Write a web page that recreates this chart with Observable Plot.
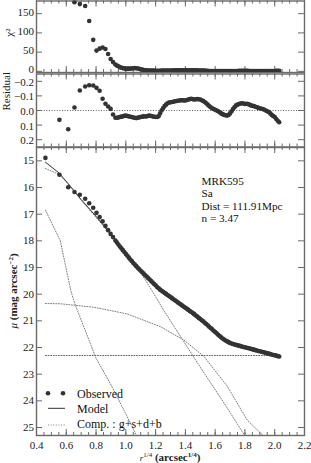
<!DOCTYPE html>
<html><head><meta charset="utf-8">
<script src="https://cdn.jsdelivr.net/npm/d3@7"></script>
<script src="https://cdn.jsdelivr.net/npm/@observablehq/plot@0.6"></script>
<style>
html,body{margin:0;padding:0;background:#fff;}
#chart{position:relative;width:311px;height:463px;overflow:hidden;}
#chart svg{position:absolute;left:0;display:block;overflow:visible;}
</style></head><body><div id="chart"></div>
<script>
// ---- data ----
const radius = [0.46,0.554,0.613,0.655,0.691,0.727,0.754,0.781,0.803,0.824,0.844,0.863,0.881,0.898,0.914,0.93,
 0.94,0.95,0.96,0.97,0.98,0.99,1.00,1.01,1.02,1.03,1.04,1.05,1.06,1.07,1.08,1.09,1.10,1.11,1.12,1.13,1.14,1.15,1.16,1.17,
 1.18,1.19,1.20,1.21,1.22,1.23,1.24,1.25,1.26,1.27,1.28,1.29,1.30,1.31,1.32,1.33,1.34,1.35,1.36,1.37,1.38,1.39,1.40,1.41,
 1.42,1.43,1.44,1.45,1.46,1.47,1.48,1.49,1.50,1.51,1.52,1.53,1.54,1.55,1.56,1.57,1.58,1.59,1.60,1.61,1.62,1.63,1.64,1.65,
 1.66,1.67,1.68,1.69,1.70,1.71,1.72,1.73,1.74,1.75,1.76,1.77,1.78,1.79,1.80,1.81,1.82,1.83,1.84,1.85,1.86,1.87,1.88,1.89,
 1.90,1.91,1.92,1.93,1.94,1.95,1.96,1.97,1.98,1.99,2.00,2.01,2.02,2.03];
const muObs = [14.89,15.52,15.99,16.17,16.27,16.42,16.59,16.76,16.95,17.11,17.27,17.44,17.60,17.74,17.86,17.99,
 18.06,18.14,18.21,18.28,18.35,18.42,18.49,18.56,18.63,18.70,18.76,18.83,18.89,18.95,19.01,19.07,19.12,19.18,19.23,19.29,
 19.34,19.40,19.45,19.51,19.56,19.62,19.67,19.73,19.78,19.83,19.87,19.91,19.95,19.99,20.03,20.07,20.11,20.15,20.19,20.23,
 20.27,20.31,20.35,20.39,20.43,20.47,20.51,20.55,20.59,20.63,20.67,20.71,20.75,20.80,20.84,20.89,20.93,20.98,21.02,21.07,
 21.12,21.17,21.22,21.27,21.32,21.37,21.42,21.47,21.52,21.57,21.62,21.66,21.70,21.74,21.77,21.80,21.83,21.85,21.87,21.89,
 21.90,21.92,21.93,21.95,21.96,21.98,21.99,22.01,22.02,22.04,22.05,22.07,22.08,22.10,22.11,22.13,22.14,22.16,22.17,22.19,
 22.20,22.22,22.23,22.25,22.26,22.28,22.29,22.31,22.33,22.34];
const residual = [null,0.064,0.128,-0.021,-0.137,-0.164,-0.173,-0.171,-0.155,-0.135,-0.08,-0.046,-0.027,-0.011,0.027,0.05,
 0.05,0.048,0.045,0.042,0.04,0.036,0.035,0.038,0.04,0.043,0.045,0.048,0.05,0.052,0.05,0.047,0.045,0.042,0.04,0.041,
 0.04,0.037,0.035,0.038,0.04,0.043,0.045,0.044,0.04,0.02,0.0,-0.015,-0.03,-0.04,-0.05,-0.054,-0.057,-0.058,-0.06,-0.063,
 -0.065,-0.067,-0.068,-0.07,-0.07,-0.069,-0.068,-0.072,-0.075,-0.078,-0.08,-0.077,-0.075,-0.077,-0.078,-0.077,-0.075,-0.07,
 -0.065,-0.058,-0.05,-0.04,-0.03,-0.022,-0.015,-0.01,-0.005,0.0,0.005,0.012,0.02,0.025,0.03,0.033,0.035,0.03,0.02,0.005,
 -0.01,-0.023,-0.035,-0.04,-0.045,-0.048,-0.05,-0.048,-0.045,-0.046,-0.045,-0.04,-0.035,-0.032,-0.03,-0.026,-0.022,-0.018,
 -0.015,-0.012,-0.01,-0.005,0.0,0.005,0.01,0.02,0.03,0.038,0.045,0.058,0.07,0.08];
const chi2 = [null,null,null,180,175,170,131,82,54,59,62,58,45,32,24,18,
 15,13,11,9.5,8.5,7.5,7,7,7,7.2,7.5,8,8.5,8,7.5,6.5,5.5,4.5,3.5,3,2.5,2.2,2,2,2,1.8,1.5,1.5,1.5,1.6,1.8,1.9,2,2.1,2.2,
 2.2,2.3,2.3,2.4,2.4,2.5,2.5,2.5,2.6,2.6,2.5,2.5,2.5,2.6,2.6,2.7,2.6,2.5,2.5,2.4,2.3,2.2,2.1,2,1.8,1.5,1.2,1,0.9,0.8,
 0.6,0.5,0.5,0.5,0.6,0.7,0.8,0.9,1,1,0.9,0.8,0.7,0.6,0.7,0.9,1,1.1,1.2,1.2,1.2,1.1,1.1,1.1,1,1,0.9,0.9,0.8,0.8,0.7,
 0.7,0.6,0.6,0.5,0.5,0.5,0.6,0.7,0.8,0.9,1,1.2,1.4,1.6];

const modelR  = [0.46,0.554,0.613,0.7,0.8,0.9,1.0,1.1,1.2,1.3,1.4,1.5,1.6,1.7,1.8,1.9,2.03];
const modelMu = [15.05,15.47,15.86,16.45,17.08,17.75,18.45,19.07,19.63,20.17,20.58,21.0,21.42,21.81,22.04,22.16,22.26];

const compG_r  = [0.46,0.56,0.63,0.66,0.8,0.91,1.01,1.08];
const compG_mu = [16.85,18.0,19.86,20.4,22.4,23.5,24.6,25.4];
const compS_r  = [0.46,0.55,0.62,0.7,0.8,0.9,0.986,1.076,1.166,1.255,1.334,1.5,1.65,1.81];
const compS_mu = [15.29,15.5,15.9,16.48,17.12,17.78,18.36,18.99,19.78,20.61,21.3,22.74,24.0,25.4];
const compD_r  = [0.46,0.56,0.785,1.009,1.233,1.389,1.524,1.681,1.815,1.94];
const compD_mu = [20.35,20.36,20.49,20.74,21.22,21.72,22.33,23.45,24.72,25.4];
const compB_r  = [0.46,2.04];
const compB_mu = [22.3,22.3];

const xMajor = [0.4,0.6,0.8,1.0,1.2,1.4,1.6,1.8,2.0,2.2];
const xMinor = [0.4,0.45,0.5,0.55,0.6,0.65,0.7,0.75,0.8,0.85,0.9,0.95,1.0,1.05,1.1,1.15,1.2,1.25,1.3,1.35,1.4,1.45,1.5,
 1.55,1.6,1.65,1.7,1.75,1.8,1.85,1.9,1.95,2.0,2.05,2.1,2.15,2.2];
const chiTicks = [0,50,100,150];
const resTicks = [-0.2,-0.1,0.0,0.1,0.2];
const muTicks = [15,16,17,18,19,20,21,22,23,24,25];
const infoLines = ["MRK595","Sa","Dist = 111.91Mpc","n = 3.47"];
const legendLabels = ["Observed","Model","Comp. : g+s+d+b"];

// ---- layout ----
const W = 311, ML = 36, MR = 7, FW = W - ML - MR;
const font = "Liberation Serif, DejaVu Serif, serif";
const frameColor = "#6a6a6a";
const obs = radius.map((r, i) => ({r, mu: muObs[i], res: residual[i], chi: chi2[i]}));
const toRows = (rs, ms) => rs.map((r, i) => ({r, mu: ms[i]}));

function frameTicks(fh, yTicks) {
  const s = {stroke: frameColor, strokeWidth: 1};
  return [
    Plot.ruleX(xMinor, {...s, insetTop: fh - 3}),
    Plot.ruleX(xMinor, {...s, insetBottom: fh - 3}),
    Plot.ruleX(xMajor, {...s, insetTop: fh - 6}),
    Plot.ruleX(xMajor, {...s, insetBottom: fh - 6}),
    Plot.ruleY(yTicks, {...s, insetRight: FW - 6}),
    Plot.ruleY(yTicks, {...s, insetLeft: FW - 6}),
    Plot.frame({stroke: frameColor, strokeWidth: 1.4})
  ];
}
const style = {fontFamily: font, fontSize: "11px", color: "#222", background: "transparent", overflow: "visible"};
const chart = document.getElementById("chart");

// Panel 1: chi^2
const p1 = Plot.plot({
  width: W, height: 73, marginLeft: ML, marginRight: MR, marginTop: 0.5, marginBottom: 1,
  x: {domain: [0.4, 2.2], axis: null},
  y: {domain: [-3, 183], axis: null},
  style,
  marks: [
    ...frameTicks(71.5, chiTicks),
    Plot.axisY(chiTicks, {anchor: "left", tickSize: 0, tickPadding: 2.5, label: null, fontFamily: font, dy: -1.5}),
    Plot.text(["χ²"], {frameAnchor: "left", rotate: -90, dx: -27.5, fontSize: 11, fill: "#222", fontFamily: font}),
    Plot.dot(obs, {x: "r", y: "chi", r: 2.3, fill: "#333", clip: true})
  ]
});
p1.style.top = "0px";
chart.appendChild(p1);

// Panel 2: residual
const p2 = Plot.plot({
  width: W, height: 74, marginLeft: ML, marginRight: MR, marginTop: 0.5, marginBottom: 0.5,
  x: {domain: [0.4, 2.2], axis: null},
  y: {domain: [0.25, -0.25], axis: null},
  style,
  marks: [
    Plot.ruleY([0], {stroke: "#333", strokeWidth: 0.8, strokeDasharray: "1,1.6"}),
    ...frameTicks(73, resTicks),
    Plot.axisY(resTicks, {anchor: "left", tickSize: 0, tickPadding: 2.5, label: null, tickFormat: d3.format(".1f"), fontFamily: font, dy: 1}),
    Plot.text(["Residual"], {frameAnchor: "left", rotate: -90, dx: -30.5, fontSize: 11, fill: "#222", fontFamily: font}),
    Plot.dot(obs, {x: "r", y: "res", r: 2.3, fill: "#333", clip: true})
  ]
});
p2.style.top = "73px";
chart.appendChild(p2);

// Panel 3: surface brightness
const compStyle = {x: "r", y: "mu", stroke: "#6f6f6f", strokeWidth: 0.9, strokeDasharray: "1,1.6", clip: true};
const p3 = Plot.plot({
  width: W, height: 316, marginLeft: ML, marginRight: MR, marginTop: 0, marginBottom: 28,
  x: {domain: [0.4, 2.2], axis: null},
  y: {domain: [25.3, 14.5], axis: null},
  style,
  marks: [
    Plot.line(toRows(compG_r, compG_mu), compStyle),
    Plot.line(toRows(compS_r, compS_mu), compStyle),
    Plot.line(toRows(compD_r, compD_mu), compStyle),
    Plot.line(toRows(compB_r, compB_mu), {...compStyle, stroke: "#555"}),
    Plot.line(toRows(modelR, modelMu), {x: "r", y: "mu", stroke: "#333", strokeWidth: 1, clip: true}),
    Plot.dot(obs, {x: "r", y: "mu", r: 2.3, fill: "#333", clip: true}),
    ...frameTicks(288, muTicks),
    Plot.axisY(muTicks, {anchor: "left", tickSize: 0, tickPadding: 2.5, label: null, fontFamily: font}),
    Plot.axisX(xMajor, {anchor: "bottom", tickSize: 0, tickPadding: 6, label: null, tickFormat: d3.format(".1f"), fontFamily: font}),
    ...infoLines.map((t, i) => Plot.text([t], {frameAnchor: "top-left", dx: 165, dy: 29.5 + i * 12.5, textAnchor: "start",
      lineAnchor: "top", fontSize: 11.2, fill: "#111", fontFamily: font}))
  ]
});
p3.style.top = "147px";
chart.appendChild(p3);

// axis labels and legend for panel 3
const s3 = d3.select(p3);
const xl = s3.append("text").attr("x", 170).attr("y", 313.5).attr("text-anchor", "middle")
  .attr("font-family", font).attr("font-size", 11).attr("fill", "#222");
xl.append("tspan").attr("font-style", "italic").attr("font-size", 9).text("r");
xl.append("tspan").attr("font-size", 7).attr("dy", -4).text("1/4");
xl.append("tspan").attr("dy", 4).attr("font-weight", "bold").text(" (arcsec");
xl.append("tspan").attr("font-size", 7).attr("dy", -4).attr("font-weight", "bold").text("1/4");
xl.append("tspan").attr("dy", 4).attr("font-weight", "bold").text(")");

const yl = s3.append("text").attr("transform", "translate(16.5,144) rotate(-90)").attr("text-anchor", "middle")
  .attr("font-family", font).attr("font-size", 11).attr("fill", "#222");
yl.append("tspan").attr("font-style", "italic").text("μ");
yl.append("tspan").attr("font-weight", "bold").text(" (mag arcsec");
yl.append("tspan").attr("font-size", 7).attr("dy", -4).attr("font-weight", "bold").text("−2");
yl.append("tspan").attr("dy", 4).attr("font-weight", "bold").text(")");

const lg = s3.append("g").attr("font-family", font).attr("font-size", 12).attr("fill", "#111")
  .attr("text-anchor", "start");
lg.append("circle").attr("cx", 48).attr("cy", 246.3).attr("r", 2.3).attr("fill", "#333");
lg.append("circle").attr("cx", 63).attr("cy", 246.3).attr("r", 2.3).attr("fill", "#333");
lg.append("line").attr("x1", 48).attr("x2", 65).attr("y1", 261.3).attr("y2", 261.3).attr("stroke", "#333");
lg.append("line").attr("x1", 48).attr("x2", 65).attr("y1", 278).attr("y2", 278).attr("stroke", "#6f6f6f")
  .attr("stroke-dasharray", "1,1.6").attr("stroke-width", 0.9);
legendLabels.forEach((t, i) => {
  lg.append("text").attr("x", 77).attr("y", [250.5, 265.7, 280.5][i]).attr("text-anchor", "start").text(t);
});
</script></body></html>
